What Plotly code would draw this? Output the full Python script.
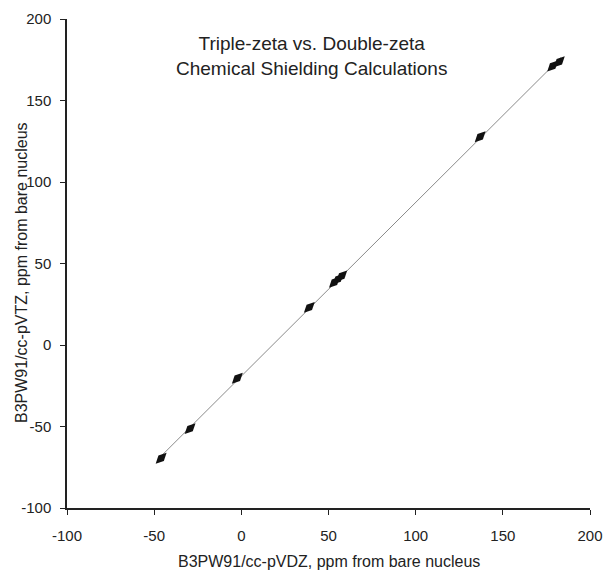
import numpy as np
import plotly.graph_objects as go

# Data (ppm from bare nucleus)
dz_values = [-46, -29.4, -2.3, 39, 53.4, 55.5, 57.6, 137, 178.6, 182.4]   # cc-pVDZ (x)
tz_values = [-69.5, -51.3, -20.4, 23.1, 38.5, 40.4, 42.3, 127.8, 171.2, 173.8]  # cc-pVTZ (y)
x_ticks = [-100, -50, 0, 50, 100, 150, 200]
y_ticks = [-100, -50, 0, 50, 100, 150, 200]
x_tick_labels = ["-100", "-50", "0", "50", "100", "150", "200"]
y_tick_labels = ["-100", "-50", "0", "50", "100", "150", "200"]
title_lines = ["Triple-zeta vs. Double-zeta", "Chemical Shielding Calculations"]
x_title = "B3PW91/cc-pVDZ, ppm from bare nucleus"
y_title = "B3PW91/cc-pVTZ, ppm from bare nucleus"

# Linear trendline through the data
slope, intercept = np.polyfit(dz_values, tz_values, 1)
line_x = [min(dz_values) - 2, max(dz_values) + 1]
line_y = [slope * v + intercept for v in line_x]

FONT = "Liberation Sans, Arial, sans-serif"
TXT = "#222222"

fig = go.Figure()
fig.add_trace(go.Scatter(x=line_x, y=line_y, mode="lines",
                         line=dict(color="#8a8a8a", width=1), hoverinfo="skip"))
fig.add_trace(go.Scatter(x=dz_values, y=tz_values, mode="markers",
                         marker=dict(symbol="diamond-wide", size=11, angle=-45,
                                     color="#111111", line=dict(width=0))))

fig.update_layout(
    width=605, height=570,
    margin=dict(l=67, r=15, t=19, b=62),
    paper_bgcolor="white", plot_bgcolor="white",
    showlegend=False,
    font=dict(family=FONT, size=15, color=TXT),
    annotations=[
        dict(text="<br>".join(title_lines), xref="paper", yref="paper",
             x=0.467, y=0.924, xanchor="center", yanchor="middle",
             showarrow=False, font=dict(size=19, family=FONT, color=TXT)),
        dict(text=x_title, xref="paper", yref="paper", x=0.5, y=-0.110,
             xanchor="center", yanchor="middle", showarrow=False,
             font=dict(size=16, family=FONT, color=TXT)),
        dict(text=y_title, xref="paper", yref="paper", x=-0.0860, y=0.4806,
             xanchor="center", yanchor="middle", textangle=-90, showarrow=False,
             font=dict(size=16, family=FONT, color=TXT)),
    ],
)
fig.update_xaxes(range=[-100, 200], tickvals=x_ticks, ticktext=x_tick_labels,
                 ticks="outside", ticklen=5, tickcolor="#222", showline=True,
                 linecolor="#222", linewidth=1.5, showgrid=False, zeroline=False,
                 ticklabelstandoff=8, automargin=False)
fig.update_yaxes(range=[-100, 200], tickvals=y_ticks, ticktext=y_tick_labels,
                 ticks="outside", ticklen=5, tickcolor="#222", showline=True,
                 linecolor="#222", linewidth=1.5, showgrid=False, zeroline=False,
                 ticklabelstandoff=6, automargin=False)

# Remove the default 8px page margin so the 605x570 figure fills the window exactly
fig.write_html("out.html",
               config={"displayModeBar": False},
               post_script="document.body.style.margin='0px';"
                           "document.body.style.overflow='hidden';")
